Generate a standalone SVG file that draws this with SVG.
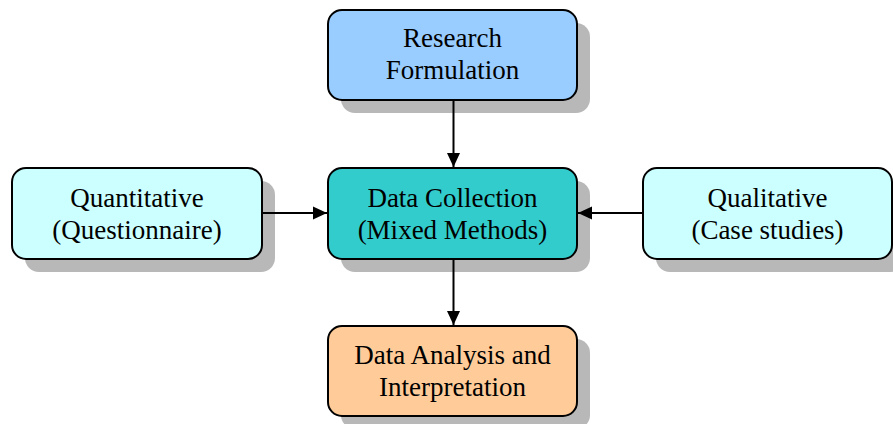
<svg xmlns="http://www.w3.org/2000/svg" width="893" height="424" viewBox="0 0 893 424">
<style>
.shadow{fill:#b8b8b8;}
.box{stroke:#000;stroke-width:2;}
.t{font-family:"Liberation Serif","Times New Roman",serif;font-size:27px;fill:#000;text-anchor:middle;}
.c{stroke:#000;stroke-width:2;fill:none;}
</style>
<defs>
<marker id="ah" markerWidth="14" markerHeight="14" refX="14" refY="7" orient="auto" markerUnits="userSpaceOnUse" viewBox="0 0 14 14">
<path d="M0,0.5 L14,7 L0,13.5 Z" fill="#000"/>
</marker>
</defs>
<rect width="893" height="424" fill="#fff"/>
<g id="research">
<rect class="shadow" x="341" y="23" width="249" height="90" rx="14"/>
<rect class="box" x="328" y="10" width="249" height="90" rx="14" fill="#99ccff"/>
<text class="t" x="452.5" y="47">Research</text>
<text class="t" x="452.5" y="79">Formulation</text>
</g>
<g id="quantitative">
<rect class="shadow" x="25" y="181" width="250" height="91" rx="14"/>
<rect class="box" x="12" y="168" width="250" height="91" rx="14" fill="#ccffff"/>
<text class="t" x="137" y="207">Quantitative</text>
<text class="t" x="137" y="239">(Questionnaire)</text>
</g>
<g id="collection">
<rect class="shadow" x="341" y="181" width="249" height="91" rx="14"/>
<rect class="box" x="328" y="168" width="249" height="91" rx="14" fill="#33cccc"/>
<text class="t" x="452.5" y="207">Data Collection</text>
<text class="t" x="452.5" y="239">(Mixed Methods)</text>
</g>
<g id="qualitative">
<rect class="shadow" x="656" y="181" width="249" height="91" rx="14"/>
<rect class="box" x="643" y="168" width="249" height="91" rx="14" fill="#ccffff"/>
<text class="t" x="767.5" y="207">Qualitative</text>
<text class="t" x="767.5" y="239">(Case studies)</text>
</g>
<g id="analysis">
<rect class="shadow" x="341" y="339" width="249" height="90" rx="14"/>
<rect class="box" x="328" y="326" width="249" height="90" rx="14" fill="#ffcc99"/>
<text class="t" x="452.5" y="364">Data Analysis and</text>
<text class="t" x="452.5" y="396">Interpretation</text>
</g>
<g id="connectors">
<line class="c" x1="453.5" y1="100" x2="453.5" y2="167" marker-end="url(#ah)"/>
<line class="c" x1="262" y1="213" x2="327" y2="213" marker-end="url(#ah)"/>
<line class="c" x1="643" y1="213" x2="578" y2="213" marker-end="url(#ah)"/>
<line class="c" x1="453.5" y1="259" x2="453.5" y2="325" marker-end="url(#ah)"/>
</g>
</svg>
